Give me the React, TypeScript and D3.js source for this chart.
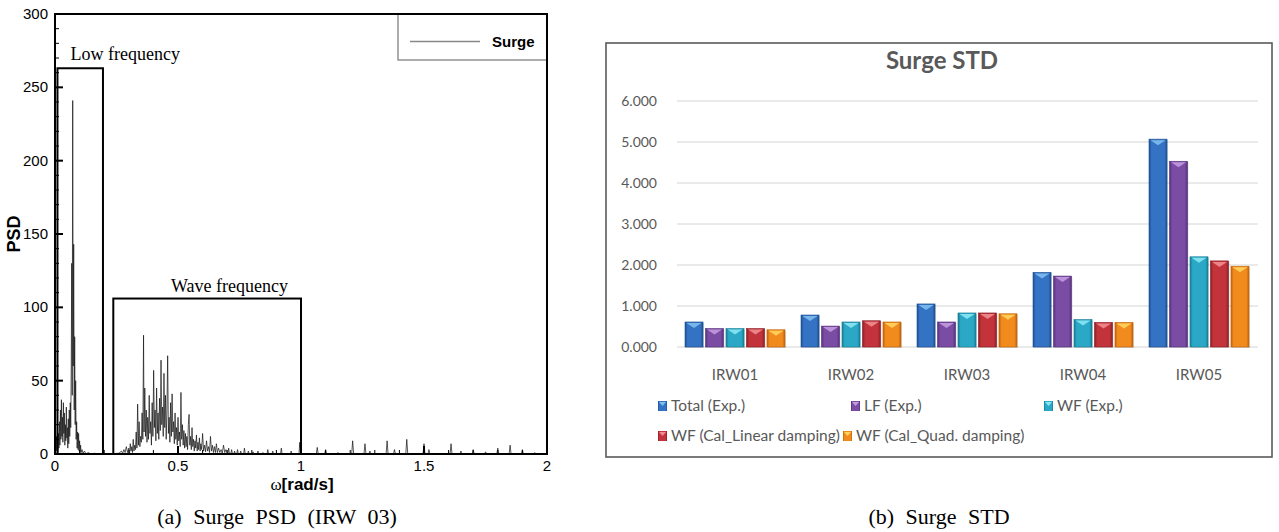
import React from "react";
import * as d3 from "d3";

// ---------- Left chart data: Surge PSD (IRW 03) ----------
const PSD_TICKS = [0, 50, 100, 150, 200, 250, 300];
const PSD_MINOR = [10, 20, 30, 40, 60, 70, 80, 90, 110, 120, 130, 140, 160, 170, 180, 190, 210, 220, 230, 240, 260, 270, 280, 290];
const OMEGA_TICKS = [0, 0.5, 1, 1.5, 2];
const OMEGA_MINOR = [0.1, 0.2, 0.3, 0.4, 0.6, 0.7, 0.8, 0.9, 1.1, 1.2, 1.3, 1.4, 1.6, 1.7, 1.8, 1.9];

// [omega, PSD]
const PSD_LOW: [number, number][] = [
  [0.0, 0], [0.002, 18], [0.004, 3], [0.006, 12], [0.008, 2], [0.01, 8], [0.012, 1], [0.014, 14],
  [0.016, 4], [0.018, 22], [0.02, 6], [0.022, 30], [0.024, 10], [0.026, 37], [0.028, 12], [0.03, 25],
  [0.032, 8], [0.034, 35], [0.036, 14], [0.038, 28], [0.04, 6], [0.042, 20], [0.044, 9], [0.046, 32],
  [0.048, 11], [0.05, 18], [0.052, 4], [0.054, 24], [0.056, 7], [0.058, 30], [0.06, 12], [0.062, 35],
  [0.064, 18], [0.066, 60], [0.068, 130], [0.07, 40], [0.072, 241], [0.074, 60], [0.076, 143], [0.078, 30],
  [0.08, 80], [0.082, 20], [0.084, 50], [0.086, 10], [0.088, 22], [0.09, 4], [0.092, 15], [0.094, 3],
  [0.096, 14], [0.098, 2], [0.1, 9], [0.102, 1], [0.104, 6], [0.106, 1], [0.11, 3], [0.114, 0.5],
  [0.12, 2], [0.126, 0], [0.135, 1], [0.145, 0], [0.16, 0.5], [0.18, 0], [0.2, 0],
];

const PSD_WAVE: [number, number][] = [
  [0.24, 0.3], [0.26, 0.5], [0.27, 2], [0.275, 0.5], [0.28, 3], [0.285, 1], [0.29, 5], [0.295, 1],
  [0.3, 4], [0.303, 0.5], [0.306, 7], [0.309, 2], [0.312, 5], [0.315, 1], [0.318, 10], [0.321, 2],
  [0.324, 6], [0.327, 3], [0.33, 15], [0.333, 4], [0.336, 34], [0.339, 6], [0.342, 22], [0.345, 5],
  [0.348, 12], [0.351, 8], [0.354, 28], [0.357, 10], [0.36, 81], [0.362, 15], [0.365, 45], [0.368, 12],
  [0.371, 30], [0.374, 8], [0.377, 25], [0.38, 10], [0.383, 40], [0.386, 14], [0.389, 22], [0.392, 6],
  [0.395, 35], [0.398, 12], [0.401, 57], [0.404, 18], [0.407, 30], [0.41, 9], [0.413, 45], [0.416, 14],
  [0.419, 28], [0.422, 10], [0.425, 38], [0.428, 16], [0.431, 64], [0.434, 20], [0.437, 32], [0.44, 12],
  [0.443, 55], [0.446, 18], [0.449, 40], [0.452, 10], [0.455, 30], [0.458, 67], [0.461, 14], [0.464, 25],
  [0.467, 8], [0.47, 35], [0.473, 12], [0.476, 41], [0.479, 15], [0.482, 22], [0.485, 7], [0.488, 28],
  [0.491, 10], [0.494, 18], [0.497, 6], [0.5, 25], [0.503, 9], [0.506, 15], [0.509, 5], [0.512, 42],
  [0.515, 10], [0.518, 20], [0.521, 6], [0.524, 16], [0.527, 4], [0.53, 14], [0.533, 5], [0.536, 12],
  [0.539, 3], [0.542, 20], [0.545, 27], [0.548, 6], [0.551, 12], [0.554, 3], [0.557, 18], [0.56, 5],
  [0.563, 10], [0.566, 2], [0.569, 9], [0.572, 4], [0.575, 13], [0.578, 2], [0.581, 8], [0.584, 3],
  [0.587, 11], [0.59, 2], [0.593, 7], [0.596, 3], [0.6, 14], [0.604, 2], [0.608, 6], [0.612, 1.5],
  [0.616, 9], [0.62, 2], [0.624, 5], [0.628, 1], [0.632, 12], [0.636, 2], [0.64, 6], [0.644, 1],
  [0.648, 5], [0.652, 1], [0.656, 7], [0.66, 1], [0.665, 4], [0.67, 1], [0.675, 3], [0.68, 0.5],
  [0.685, 6], [0.69, 1], [0.695, 3], [0.7, 0.5], [0.703, 0.2], [0.706, 4], [0.709, 0.3], [0.715, 0.3],
  [0.718, 3], [0.721, 0.3], [0.727, 0.2], [0.73, 2], [0.733, 0.2], [0.739, 0.2], [0.742, 3], [0.745, 0.2],
  [0.752, 0.2], [0.755, 2], [0.758, 0.2], [0.767, 0.2], [0.77, 4], [0.773, 0.2], [0.783, 0.2], [0.786, 2],
  [0.789, 0.2], [0.802, 0.2], [0.805, 1.5], [0.808, 0.2], [0.822, 0.2], [0.825, 2], [0.828, 0.2], [0.842, 0.2],
  [0.845, 1], [0.848, 0.2], [0.862, 0.2], [0.865, 3], [0.868, 0.2], [0.882, 0.2], [0.885, 2], [0.888, 0.2],
  [0.917, 0.2], [0.92, 4], [0.923, 0.2], [0.957, 0.2], [0.96, 2], [0.963, 0.2], [0.992, 0.2], [0.995, 8],
  [0.998, 0.2], [1.0, 0.2],
];

const PSD_HIGH: [number, number][] = [
  [1.062, 0], [1.066, 4.5], [1.07, 0], [1.096, 0], [1.1, 3], [1.104, 0], [1.146, 0], [1.15, 1],
  [1.154, 0], [1.206, 0], [1.21, 9], [1.214, 0], [1.256, 0], [1.26, 7], [1.264, 0], [1.276, 0],
  [1.28, 2], [1.284, 0], [1.346, 0], [1.35, 9], [1.354, 0], [1.376, 0], [1.38, 3], [1.384, 0],
  [1.426, 0], [1.43, 10], [1.434, 0], [1.496, 0], [1.5, 7], [1.504, 0], [1.516, 0], [1.52, 3],
  [1.524, 0], [1.606, 0], [1.61, 7], [1.614, 0], [1.646, 0], [1.65, 2], [1.654, 0], [1.696, 0],
  [1.7, 3], [1.704, 0], [1.746, 0], [1.75, 1.5], [1.754, 0], [1.796, 0], [1.8, 4], [1.804, 0],
  [1.846, 0], [1.85, 6], [1.854, 0], [1.896, 0], [1.9, 3], [1.904, 0], [1.946, 0], [1.95, 1],
  [1.954, 0], [2.0, 0],
];

// frequency bands [omegaStart, omegaEnd, psdTop]
const LOW_BAND: [number, number, number] = [0.01, 0.195, 263];
const WAVE_BAND: [number, number, number] = [0.237, 1.0, 106];

// ---------- Right chart data: Surge STD ----------
const CATEGORIES = ["IRW01", "IRW02", "IRW03", "IRW04", "IRW05"];
const STD_TICKS = [0, 1, 2, 3, 4, 5, 6];
const TOTAL_EXP = [0.61, 0.78, 1.05, 1.82, 5.07];
const LF_EXP = [0.45, 0.51, 0.61, 1.73, 4.53];
const WF_EXP = [0.45, 0.61, 0.83, 0.67, 2.2];
const WF_LINEAR = [0.45, 0.64, 0.83, 0.6, 2.1];
const WF_QUAD = [0.42, 0.61, 0.81, 0.6, 1.97];
const SERIES_NAMES = [
  "Total (Exp.)",
  "LF (Exp.)",
  "WF (Exp.)",
  "WF (Cal_Linear damping)",
  "WF (Cal_Quad. damping)",
];
const SERIES_VALUES = [TOTAL_EXP, LF_EXP, WF_EXP, WF_LINEAR, WF_QUAD];

const COLORS = [
  { base: "#3473c3", light: "#7fbdf0", dark: "#1d4f92" },
  { base: "#7a4ca3", light: "#c39be0", dark: "#52307a" },
  { base: "#2aa8c6", light: "#8ae6f4", dark: "#197a92" },
  { base: "#c2333b", light: "#f08c90", dark: "#8a1d24" },
  { base: "#f28b1d", light: "#ffd35e", dark: "#bf620b" },
];

const SANS = "'Liberation Sans', Arial, sans-serif";
const SERIF = "'Liberation Serif', 'Times New Roman', serif";
const CAL = "Lato, 'Open Sans', sans-serif";

export default function App() {
  // Left chart scales
  const xP = d3.scaleLinear().domain([0, 2]).range([55, 547]);
  const yP = d3.scaleLinear().domain([0, 300]).range([454, 14]);
  const line = d3
    .line<[number, number]>()
    .x((d) => xP(d[0]))
    .y((d) => yP(d[1]));
  const spectrum = [...PSD_LOW, ...PSD_WAVE, ...PSD_HIGH];

  // Right chart scales
  const xC = d3.scaleBand<string>().domain(CATEGORIES).range([677, 1257]).paddingInner(0.138).paddingOuter(0.069);
  const xS = d3.scaleBand<string>().domain(SERIES_NAMES).range([0, xC.bandwidth()]).paddingInner(0.12);
  const yS = d3.scaleLinear().domain([0, 6]).range([347, 101]);
  const fmt = d3.format(".3f");

  const legendItems = [
    { x: 658, y: 406 },
    { x: 851, y: 406 },
    { x: 1044, y: 406 },
    { x: 658, y: 436 },
    { x: 843, y: 436 },
  ];

  return (
    <svg
      width={1279}
      height={532}
      viewBox="0 0 1279 532"
      style={{ position: "absolute", left: 0, top: 0, background: "#fff" }}
    >
      <defs>
        {COLORS.map((c, i) => (
          <linearGradient key={i} id={`bar${i}`} x1="0" x2="1" y1="0" y2="0">
            <stop offset="0" stopColor={c.dark} />
            <stop offset="0.15" stopColor={c.base} />
            <stop offset="0.5" stopColor={c.base} />
            <stop offset="0.85" stopColor={c.base} />
            <stop offset="1" stopColor={c.dark} />
          </linearGradient>
        ))}
      </defs>

      {/* ================= LEFT CHART ================= */}
      <g>
        {/* spectrum */}
        <path d={line(spectrum) || ""} fill="none" stroke="#111" strokeWidth={0.7} />

        {/* band boxes */}
        {[LOW_BAND, WAVE_BAND].map((b, i) => (
          <rect
            key={i}
            x={xP(b[0])}
            y={yP(b[2])}
            width={xP(b[1]) - xP(b[0])}
            height={yP(0) - yP(b[2])}
            fill="none"
            stroke="#000"
            strokeWidth={2}
          />
        ))}
        <text x={xP(LOW_BAND[0]) + 13} y={yP(LOW_BAND[2]) - 8} fontFamily={SERIF} fontSize={18}>
          Low frequency
        </text>
        <text x={171} y={yP(WAVE_BAND[2]) - 7} fontFamily={SERIF} fontSize={18}>
          Wave frequency
        </text>

        {/* y ticks */}
        {PSD_TICKS.map((t) => (
          <g key={`y${t}`}>
            <line x1={55} x2={63} y1={yP(t)} y2={yP(t)} stroke="#000" strokeWidth={2} />
            <text x={48} y={yP(t) + 5} textAnchor="end" fontFamily={SANS} fontSize={15}>
              {t}
            </text>
          </g>
        ))}
        {PSD_MINOR.map((t) => (
          <line key={`ym${t}`} x1={55} x2={59} y1={yP(t)} y2={yP(t)} stroke="#000" strokeWidth={1} />
        ))}
        {/* x ticks */}
        {OMEGA_TICKS.map((t) => (
          <g key={`x${t}`}>
            <line x1={xP(t)} x2={xP(t)} y1={454} y2={446} stroke="#000" strokeWidth={2} />
            <text x={xP(t)} y={471} textAnchor="middle" fontFamily={SANS} fontSize={15}>
              {t}
            </text>
          </g>
        ))}
        {OMEGA_MINOR.map((t) => (
          <line key={`xm${t}`} x1={xP(t)} x2={xP(t)} y1={454} y2={450} stroke="#000" strokeWidth={1} />
        ))}

        {/* axis titles */}
        <text
          transform="translate(20,234) rotate(-90)"
          textAnchor="middle"
          fontFamily={SANS}
          fontWeight="bold"
          fontSize={18}
        >
          PSD
        </text>
        <text x={302} y={490} textAnchor="middle" fontSize={17}>
          <tspan fontFamily={SERIF}>ω</tspan>
          <tspan fontFamily={SANS} fontWeight="bold">[rad/s]</tspan>
        </text>

        {/* legend */}
        <rect x={398} y={14} width={149} height={46} fill="#fff" stroke="#777" strokeWidth={1.2} />
        <line x1={410} x2={480} y1={41.5} y2={41.5} stroke="#888" strokeWidth={1.5} />
        <text x={492} y={47} fontFamily={SANS} fontWeight="bold" fontSize={15}>
          Surge
        </text>

        {/* frame */}
        <rect x={55} y={14} width={492} height={440} fill="none" stroke="#000" strokeWidth={2} />

        {/* caption */}
        <text x={277} y={524} textAnchor="middle" fontFamily={SERIF} fontSize={22} wordSpacing={6}>
          (a) Surge PSD (IRW 03)
        </text>
      </g>

      {/* ================= RIGHT CHART ================= */}
      <g>
        <rect x={606} y={43} width={666} height={414} fill="#fff" stroke="#5a5a5a" strokeWidth={1.6} />
        <text x={942} y={69} textAnchor="middle" fontFamily={CAL} fontWeight="bold" fontSize={24} fill="#595959">
          Surge STD
        </text>

        {STD_TICKS.map((t) => (
          <g key={`s${t}`}>
            <line x1={677} x2={1258} y1={yS(t)} y2={yS(t)} stroke="#d4d4d4" strokeWidth={1} />
            <text x={657} y={yS(t) + 5} textAnchor="end" fontFamily={CAL} fontSize={14} fill="#595959">
              {fmt(t)}
            </text>
          </g>
        ))}

        {CATEGORIES.map((c, ci) => (
          <g key={c}>
            {SERIES_NAMES.map((s, si) => {
              const v = SERIES_VALUES[si][ci];
              const x = (xC(c) || 0) + (xS(s) || 0);
              const w = xS.bandwidth();
              const y = yS(v);
              const h = yS(0) - y;
              return (
                <g key={s}>
                  <rect x={x + 1} y={y + 1} width={w} height={h} fill="#000" opacity={0.12} />
                  <rect x={x} y={y} width={w} height={h} fill={`url(#bar${si})`} stroke={COLORS[si].dark} strokeWidth={0.6} />
                  <polygon
                    points={`${x + 1.5},${y + 1} ${x + w - 1.5},${y + 1} ${x + w / 2},${y + 6}`}
                    fill={COLORS[si].light}
                    opacity={0.9}
                  />
                </g>
              );
            })}
            <text
              x={(xC(c) || 0) + xC.bandwidth() / 2}
              y={380}
              textAnchor="middle"
              fontFamily={CAL}
              fontSize={15}
              fill="#595959"
            >
              {c}
            </text>
          </g>
        ))}

        {SERIES_NAMES.map((s, i) => (
          <g key={s}>
            <rect x={legendItems[i].x} y={legendItems[i].y - 5} width={9} height={10} fill={`url(#bar${i})`} />
            <polygon
              points={`${legendItems[i].x + 1},${legendItems[i].y - 4} ${legendItems[i].x + 8},${legendItems[i].y - 4} ${legendItems[i].x + 4.5},${legendItems[i].y}`}
              fill={COLORS[i].light}
            />
            <text x={legendItems[i].x + 13} y={legendItems[i].y + 5} fontFamily={CAL} fontSize={15.5} fill="#595959">
              {s}
            </text>
          </g>
        ))}

        <text x={939} y={524} textAnchor="middle" fontFamily={SERIF} fontSize={22} wordSpacing={6}>
          (b) Surge STD
        </text>
      </g>
    </svg>
  );
}
